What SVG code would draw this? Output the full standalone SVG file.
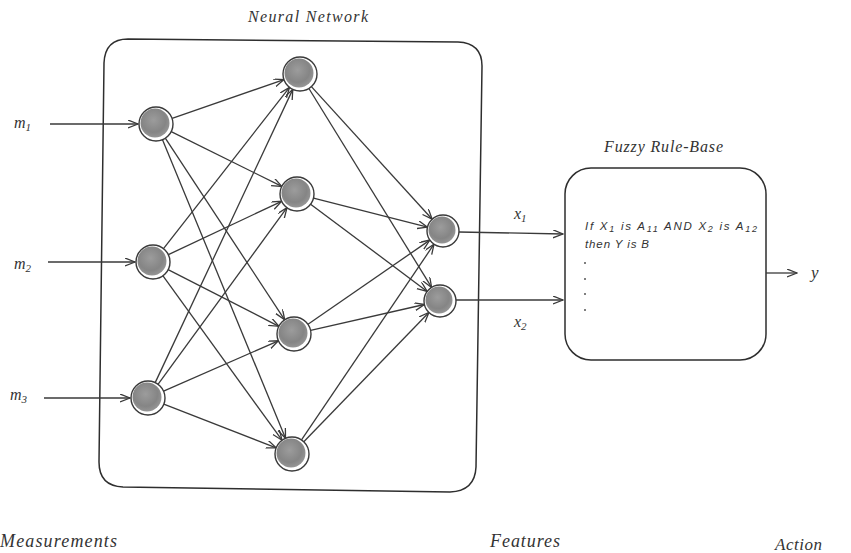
<svg xmlns="http://www.w3.org/2000/svg" width="851" height="553" viewBox="0 0 851 553">
  <defs>
    <radialGradient id="nodeFill" cx="45%" cy="40%" r="60%">
      <stop offset="0%" stop-color="#9c9c9c"/>
      <stop offset="70%" stop-color="#858585"/>
      <stop offset="100%" stop-color="#959595"/>
    </radialGradient>
    <marker id="arr" markerWidth="11" markerHeight="9" refX="10" refY="4" orient="auto" markerUnits="userSpaceOnUse">
      <path d="M0,0 L10,4 L0,8" fill="none" stroke="#3a3a3a" stroke-width="1.3"/>
    </marker>
  </defs>
  <style>
    .box { fill: none; stroke: #2e2e2e; stroke-width: 1.5; }
    .node circle.ring { fill: #fff; stroke: #3a3a3a; stroke-width: 1.4; }
    .node circle.core { fill: url(#nodeFill); }
    #connectors line { stroke: #3a3a3a; stroke-width: 1.3; marker-end: url(#arr); }
    .lbl { font-family: "Liberation Serif", serif; font-style: italic; fill: #333; }
    .rule { font-family: "Liberation Sans", sans-serif; font-style: italic; font-size: 11.5px; fill: #333; }
  </style>
  <rect width="851" height="553" fill="#fff"/>

  <!-- containers -->
  <g id="neural-network">
    <path class="box" d="M128,39 L458,42 Q482,43 482,66 L476,467 Q475,491 450,492 L123,487 Q99,486 99,462 L104,63 Q105,39 128,39 Z"/>
    <text class="lbl" x="248" y="22" font-size="16" textLength="120" lengthAdjust="spacing">Neural Network</text>
  </g>
  <g id="fuzzy-rule-base">
    <rect class="box" x="565" y="168" width="201" height="192" rx="26"/>
    <text class="lbl" x="604" y="152" font-size="16" textLength="119" lengthAdjust="spacing">Fuzzy Rule-Base</text>
    <text class="rule" x="585" y="230" textLength="172" lengthAdjust="spacing">If X<tspan font-size="9" dy="2">1</tspan><tspan dy="-2"> is A</tspan><tspan font-size="9" dy="2">11</tspan><tspan dy="-2"> AND X</tspan><tspan font-size="9" dy="2">2</tspan><tspan dy="-2"> is A</tspan><tspan font-size="9" dy="2">12</tspan></text>
    <text class="rule" x="585" y="248" textLength="64" lengthAdjust="spacing">then Y is B</text>
    <g fill="#555">
      <circle cx="585" cy="263" r="1"/>
      <circle cx="585" cy="279" r="1"/>
      <circle cx="585" cy="294" r="1"/>
      <circle cx="585" cy="310" r="1"/>
    </g>
  </g>

  <!-- connectors -->
  <g id="connectors">
    <line x1="50" y1="124" x2="138" y2="124"/>
    <line x1="48" y1="262" x2="135" y2="262"/>
    <line x1="44" y1="398" x2="130" y2="398"/>

    <line x1="172.1" y1="118.4" x2="283.9" y2="79.6"/>
    <line x1="171.2" y1="131.6" x2="281.8" y2="186.4"/>
    <line x1="165.3" y1="138.2" x2="284.7" y2="319.8"/>
    <line x1="162.5" y1="139.7" x2="285.5" y2="438.3"/>
    <line x1="163.5" y1="248.6" x2="289.5" y2="87.4"/>
    <line x1="168.4" y1="254.7" x2="281.6" y2="201.3"/>
    <line x1="168.1" y1="269.7" x2="278.9" y2="326.3"/>
    <line x1="163.0" y1="275.8" x2="282.0" y2="440.2"/>
    <line x1="155.2" y1="382.6" x2="292.8" y2="89.4"/>
    <line x1="158.0" y1="384.3" x2="287.0" y2="207.7"/>
    <line x1="163.6" y1="391.2" x2="278.4" y2="340.8"/>
    <line x1="163.8" y1="404.2" x2="276.2" y2="447.8"/>

    <line x1="311.4" y1="86.6" x2="432.2" y2="219.2"/>
    <line x1="308.9" y1="88.5" x2="431.6" y2="287.4"/>
    <line x1="313.5" y1="198.2" x2="427.5" y2="227.1"/>
    <line x1="310.6" y1="204.2" x2="427.2" y2="291.4"/>
    <line x1="308.0" y1="324.3" x2="429.8" y2="240.1"/>
    <line x1="310.6" y1="330.3" x2="424.4" y2="304.5"/>
    <line x1="301.5" y1="439.9" x2="434.0" y2="244.2"/>
    <line x1="303.8" y1="441.8" x2="428.9" y2="312.5"/>

    <line x1="459" y1="232" x2="563" y2="234"/>
    <line x1="456" y1="300" x2="563" y2="300"/>
    <line x1="766" y1="273" x2="797" y2="273"/>
  </g>

  <!-- input layer -->
  <g id="in1" class="node"><circle class="ring" cx="156" cy="124" r="17"/><circle class="core" cx="155" cy="123" r="14.5"/></g>
  <g id="in2" class="node"><circle class="ring" cx="153" cy="262" r="17"/><circle class="core" cx="152" cy="261" r="14.5"/></g>
  <g id="in3" class="node"><circle class="ring" cx="148" cy="398" r="17"/><circle class="core" cx="147" cy="397" r="14.5"/></g>

  <!-- hidden layer -->
  <g id="h1" class="node"><circle class="ring" cx="300" cy="74" r="17"/><circle class="core" cx="299" cy="73" r="14.5"/></g>
  <g id="h2" class="node"><circle class="ring" cx="297" cy="194" r="17"/><circle class="core" cx="296" cy="193" r="14.5"/></g>
  <g id="h3" class="node"><circle class="ring" cx="294" cy="334" r="17"/><circle class="core" cx="293" cy="333" r="14.5"/></g>
  <g id="h4" class="node"><circle class="ring" cx="292" cy="454" r="17"/><circle class="core" cx="291" cy="453" r="14.5"/></g>

  <!-- output layer -->
  <g id="out1" class="node"><circle class="ring" cx="443" cy="231" r="16"/><circle class="core" cx="442" cy="230" r="13.5"/></g>
  <g id="out2" class="node"><circle class="ring" cx="440" cy="301" r="16"/><circle class="core" cx="439" cy="300" r="13.5"/></g>

  <!-- signal labels -->
  <g id="labels" class="lbl">
    <text x="14" y="128" font-size="16">m<tspan font-size="11" dy="3">1</tspan></text>
    <text x="14" y="269" font-size="16">m<tspan font-size="11" dy="3">2</tspan></text>
    <text x="10" y="400" font-size="16">m<tspan font-size="11" dy="3">3</tspan></text>
    <text x="514" y="219" font-size="16">x<tspan font-size="11" dy="3">1</tspan></text>
    <text x="514" y="327" font-size="16">x<tspan font-size="11" dy="3">2</tspan></text>
    <text x="811" y="278" font-size="17">y</text>
    <text x="0" y="547" font-size="18" textLength="117" lengthAdjust="spacing">Measurements</text>
    <text x="490" y="547" font-size="18" textLength="70" lengthAdjust="spacing">Features</text>
    <text x="775" y="550" font-size="17" textLength="47" lengthAdjust="spacing">Action</text>
  </g>
</svg>
